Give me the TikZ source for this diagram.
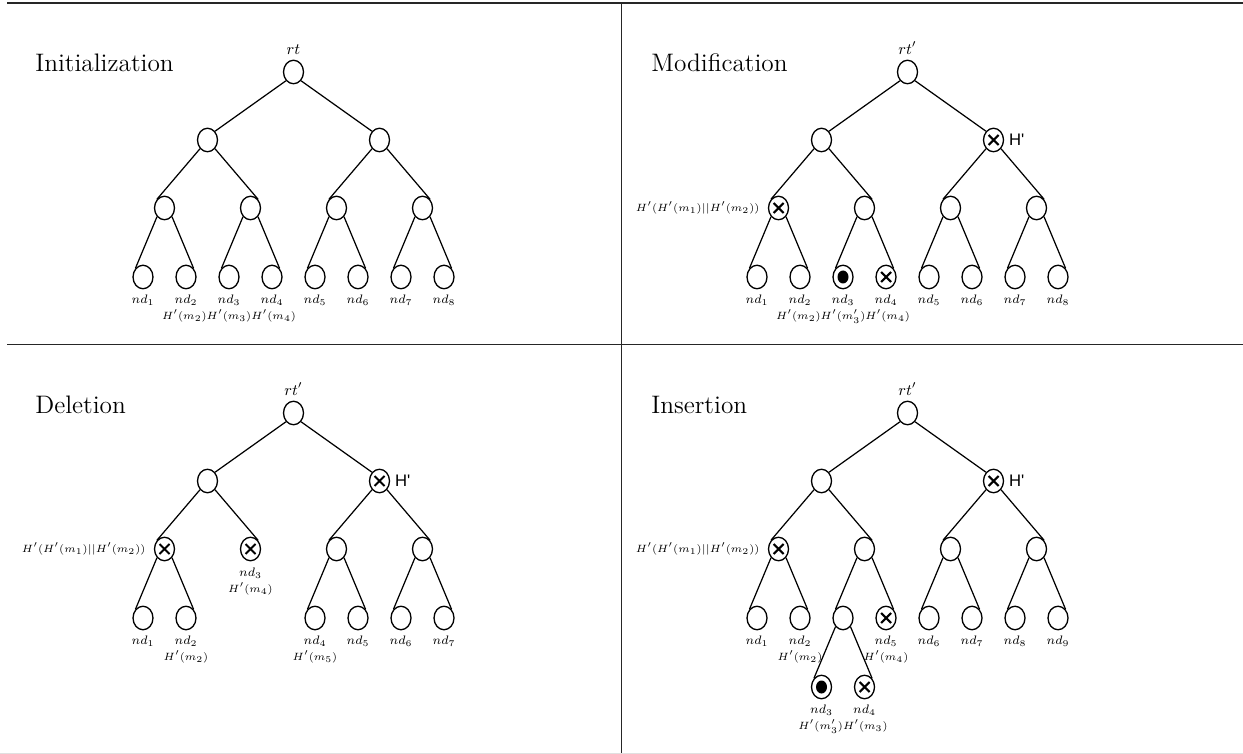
\documentclass[tikz,border=0pt]{standalone}
\usepackage{fontspec}
\newfontfamily\hfont{Liberation Sans}
\usetikzlibrary{positioning,calc,shapes.geometric}
\tikzset{
  nd/.style={ellipse,draw,line width=.75pt,minimum width=4mm,minimum height=4.7mm,inner sep=0pt},
  crossed/.style={nd,path picture={
      \draw[line width=1.2pt] ($(path picture bounding box.center)+(-1mm,-1mm)$) -- ++(2mm,2mm)
        ($(path picture bounding box.center)+(-1mm,1mm)$) -- ++(2mm,-2mm);}},
  newval/.style={nd,path picture={
      \fill (path picture bounding box.center) ellipse (1.1mm and 1.3mm);}},
  link/.style={line width=.7pt},
  lbl/.style={font=\scriptsize,inner sep=0pt},
  hrow/.style={font=\fontsize{6.4}{7.5}\selectfont,inner sep=0pt},
  rtlbl/.style={font=\small,inner sep=0pt},
  hlbl/.style={font=\hfont\fontsize{9.5}{11}\selectfont,inner sep=0pt},
  paneltitle/.style={font=\Large,anchor=base west,inner sep=0pt},
  rule/.style={line width=.8pt,color=black!85},
}
\newcommand{\rootfork}[3]{%
  \draw[link] (#1.south west) -- (#2.north east);
  \draw[link] (#1.south east) -- (#3.north west);}
\newcommand{\treefork}[3]{%
  \draw[link] (#1.south west) -- (#2.north west);
  \draw[link] (#1.south east) -- (#3.north east);}

\begin{document}
\begin{tikzpicture}[x=1cm,y=1cm]
  \useasboundingbox (0,0) rectangle (24.86,-15.08);
  % table rules
  \draw[rule] (0.14,-0.06) -- (24.86,-0.06);
  \draw[rule] (0.14,-6.89) -- (24.86,-6.89);
  \draw[rule] (12.434,-0.06) -- (12.434,-15.08);
  \draw[rule,color=black!12] (0,-15.07) -- (24.86,-15.07);

  % Initialization
  \node[paneltitle] (init-t) at (0.70,-1.44) {Initialization};
  \node[nd] (init-r) at (5.87,-1.44) {};
  \node[rtlbl,above=1mm of init-r] (init-rt) {$rt$};
  \node[nd] (init-a) at (4.15,-2.80) {};
  \node[nd] (init-b) at (7.59,-2.80) {};
  \node[nd] (init-c) at (3.29,-4.16) {};
  \node[nd] (init-d) at (5.01,-4.16) {};
  \node[nd] (init-e) at (6.73,-4.16) {};
  \node[nd] (init-f) at (8.45,-4.16) {};
  \node[nd] (init-1) at (2.86,-5.54) {};
  \node[nd] (init-2) at (3.72,-5.54) {};
  \node[nd] (init-3) at (4.58,-5.54) {};
  \node[nd] (init-4) at (5.44,-5.54) {};
  \node[nd] (init-5) at (6.30,-5.54) {};
  \node[nd] (init-6) at (7.16,-5.54) {};
  \node[nd] (init-7) at (8.02,-5.54) {};
  \node[nd] (init-8) at (8.88,-5.54) {};
  \node[lbl,below=1mm of init-1] (init-n1) {$nd_1$};
  \node[lbl,below=1mm of init-2] (init-n2) {$nd_2$};
  \node[lbl,below=1mm of init-3] (init-n3) {$nd_3$};
  \node[lbl,below=1mm of init-4] (init-n4) {$nd_4$};
  \node[lbl,below=1mm of init-5] (init-n5) {$nd_5$};
  \node[lbl,below=1mm of init-6] (init-n6) {$nd_6$};
  \node[lbl,below=1mm of init-7] (init-n7) {$nd_7$};
  \node[lbl,below=1mm of init-8] (init-n8) {$nd_8$};
  \node[hrow,below=.8mm of init-n3] (init-h) {$H'(m_2)H'(m_3)H'(m_4)$};
  \rootfork{init-r}{init-a}{init-b}
  \treefork{init-a}{init-c}{init-d}
  \treefork{init-b}{init-e}{init-f}
  \treefork{init-c}{init-1}{init-2}
  \treefork{init-d}{init-3}{init-4}
  \treefork{init-e}{init-5}{init-6}
  \treefork{init-f}{init-7}{init-8}

  % Modification
  \begin{scope}[shift={(12.28,0)}]
  \node[paneltitle] (mod-t) at (0.74,-1.44) {Modification};
  \node[nd] (mod-r) at (5.87,-1.44) {};
  \node[rtlbl,above=1mm of mod-r] (mod-rt) {$rt'$};
  \node[nd] (mod-a) at (4.15,-2.80) {};
  \node[crossed] (mod-b) at (7.59,-2.80) {};
  \node[hlbl,right=.9mm of mod-b] (mod-hb) {H'};
  \node[crossed] (mod-c) at (3.29,-4.16) {};
  \node[hrow,left=1.6mm of mod-c] (mod-hc) {$H'(H'(m_1)||H'(m_2))$};
  \node[nd] (mod-d) at (5.01,-4.16) {};
  \node[nd] (mod-e) at (6.73,-4.16) {};
  \node[nd] (mod-f) at (8.45,-4.16) {};
  \node[nd] (mod-1) at (2.86,-5.54) {};
  \node[nd] (mod-2) at (3.72,-5.54) {};
  \node[newval] (mod-3) at (4.58,-5.54) {};
  \node[crossed] (mod-4) at (5.44,-5.54) {};
  \node[nd] (mod-5) at (6.30,-5.54) {};
  \node[nd] (mod-6) at (7.16,-5.54) {};
  \node[nd] (mod-7) at (8.02,-5.54) {};
  \node[nd] (mod-8) at (8.88,-5.54) {};
  \node[lbl,below=1mm of mod-1] (mod-n1) {$nd_1$};
  \node[lbl,below=1mm of mod-2] (mod-n2) {$nd_2$};
  \node[lbl,below=1mm of mod-3] (mod-n3) {$nd_3$};
  \node[lbl,below=1mm of mod-4] (mod-n4) {$nd_4$};
  \node[lbl,below=1mm of mod-5] (mod-n5) {$nd_5$};
  \node[lbl,below=1mm of mod-6] (mod-n6) {$nd_6$};
  \node[lbl,below=1mm of mod-7] (mod-n7) {$nd_7$};
  \node[lbl,below=1mm of mod-8] (mod-n8) {$nd_8$};
  \node[hrow,below=.8mm of mod-n3] (mod-h) {$H'(m_2)H'(m'_3)H'(m_4)$};
  \rootfork{mod-r}{mod-a}{mod-b}
  \treefork{mod-a}{mod-c}{mod-d}
  \treefork{mod-b}{mod-e}{mod-f}
  \treefork{mod-c}{mod-1}{mod-2}
  \treefork{mod-d}{mod-3}{mod-4}
  \treefork{mod-e}{mod-5}{mod-6}
  \treefork{mod-f}{mod-7}{mod-8}
  \end{scope}

  % Deletion
  \begin{scope}[shift={(0,-6.82)}]
  \node[paneltitle] (del-t) at (0.70,-1.44) {Deletion};
  \node[nd] (del-r) at (5.87,-1.44) {};
  \node[rtlbl,above=1mm of del-r] (del-rt) {$rt'$};
  \node[nd] (del-a) at (4.15,-2.80) {};
  \node[crossed] (del-b) at (7.59,-2.80) {};
  \node[hlbl,right=.9mm of del-b] (del-hb) {H'};
  \node[crossed] (del-c) at (3.29,-4.16) {};
  \node[hrow,left=1.6mm of del-c] (del-hc) {$H'(H'(m_1)||H'(m_2))$};
  \node[crossed] (del-d) at (5.01,-4.16) {};
  \node[nd] (del-e) at (6.73,-4.16) {};
  \node[nd] (del-f) at (8.45,-4.16) {};
  \node[nd] (del-1) at (2.86,-5.54) {};
  \node[nd] (del-2) at (3.72,-5.54) {};
  \node[nd] (del-4) at (6.30,-5.54) {};
  \node[nd] (del-5) at (7.16,-5.54) {};
  \node[nd] (del-6) at (8.02,-5.54) {};
  \node[nd] (del-7) at (8.88,-5.54) {};
  \node[lbl,below=1.2mm of del-d] (del-n3) {$nd_3$};
  \node[hrow,below=.8mm of del-n3] (del-h3) {$H'(m_4)$};
  \node[lbl,below=1mm of del-1] (del-n1) {$nd_1$};
  \node[lbl,below=1mm of del-2] (del-n2) {$nd_2$};
  \node[hrow,below=.8mm of del-n2] (del-h2) {$H'(m_2)$};
  \node[lbl,below=1mm of del-4] (del-n4) {$nd_4$};
  \node[hrow,below=.8mm of del-n4] (del-h4) {$H'(m_5)$};
  \node[lbl,below=1mm of del-5] (del-n5) {$nd_5$};
  \node[lbl,below=1mm of del-6] (del-n6) {$nd_6$};
  \node[lbl,below=1mm of del-7] (del-n7) {$nd_7$};
  \rootfork{del-r}{del-a}{del-b}
  \treefork{del-a}{del-c}{del-d}
  \treefork{del-b}{del-e}{del-f}
  \treefork{del-c}{del-1}{del-2}
  \treefork{del-e}{del-4}{del-5}
  \treefork{del-f}{del-6}{del-7}
  \end{scope}

  % Insertion
  \begin{scope}[shift={(12.28,-6.82)}]
  \node[paneltitle] (ins-t) at (0.74,-1.44) {Insertion};
  \node[nd] (ins-r) at (5.87,-1.44) {};
  \node[rtlbl,above=1mm of ins-r] (ins-rt) {$rt'$};
  \node[nd] (ins-a) at (4.15,-2.80) {};
  \node[crossed] (ins-b) at (7.59,-2.80) {};
  \node[hlbl,right=.9mm of ins-b] (ins-hb) {H'};
  \node[crossed] (ins-c) at (3.29,-4.16) {};
  \node[hrow,left=1.6mm of ins-c] (ins-hc) {$H'(H'(m_1)||H'(m_2))$};
  \node[nd] (ins-d) at (5.01,-4.16) {};
  \node[nd] (ins-e) at (6.73,-4.16) {};
  \node[nd] (ins-f) at (8.45,-4.16) {};
  \node[nd] (ins-1) at (2.86,-5.54) {};
  \node[nd] (ins-2) at (3.72,-5.54) {};
  \node[nd] (ins-g) at (4.58,-5.54) {};
  \node[crossed] (ins-5) at (5.44,-5.54) {};
  \node[nd] (ins-6) at (6.30,-5.54) {};
  \node[nd] (ins-7) at (7.16,-5.54) {};
  \node[nd] (ins-8) at (8.02,-5.54) {};
  \node[nd] (ins-9) at (8.88,-5.54) {};
  \node[newval] (ins-3) at (4.15,-6.92) {};
  \node[crossed] (ins-4) at (5.01,-6.92) {};
  \node[lbl,below=1mm of ins-1] (ins-n1) {$nd_1$};
  \node[lbl,below=1mm of ins-2] (ins-n2) {$nd_2$};
  \node[hrow,below=.8mm of ins-n2] (ins-h2) {$H'(m_2)$};
  \node[lbl,below=1mm of ins-5] (ins-n5) {$nd_5$};
  \node[hrow,below=.8mm of ins-n5] (ins-h5) {$H'(m_4)$};
  \node[lbl,below=1mm of ins-6] (ins-n6) {$nd_6$};
  \node[lbl,below=1mm of ins-7] (ins-n7) {$nd_7$};
  \node[lbl,below=1mm of ins-8] (ins-n8) {$nd_8$};
  \node[lbl,below=1mm of ins-9] (ins-n9) {$nd_9$};
  \node[lbl,below=1mm of ins-3] (ins-n3) {$nd_3$};
  \node[lbl,below=1mm of ins-4] (ins-n4) {$nd_4$};
  \node[hrow,anchor=north] (ins-h34) at ($(ins-n3.south)!.5!(ins-n4.south)+(0,-.8mm)$) {$H'(m'_3)H'(m_3)$};
  \rootfork{ins-r}{ins-a}{ins-b}
  \treefork{ins-a}{ins-c}{ins-d}
  \treefork{ins-b}{ins-e}{ins-f}
  \treefork{ins-c}{ins-1}{ins-2}
  \treefork{ins-d}{ins-g}{ins-5}
  \treefork{ins-e}{ins-6}{ins-7}
  \treefork{ins-f}{ins-8}{ins-9}
  \treefork{ins-g}{ins-3}{ins-4}
  \end{scope}
\end{tikzpicture}
\end{document}
